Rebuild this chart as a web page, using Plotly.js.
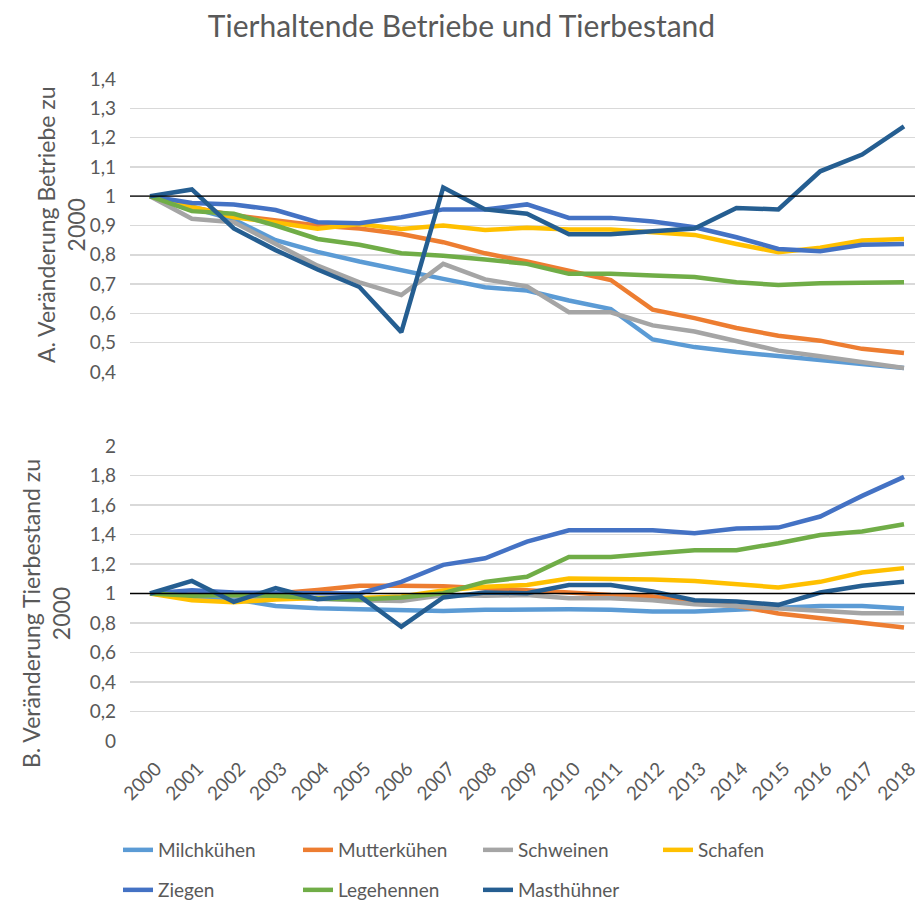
<!DOCTYPE html>
<html>
<head>
<meta charset="utf-8">
<script src="https://cdn.plot.ly/plotly-3.0.1.min.js"></script>
<style>html,body{margin:0;padding:0;background:#fff;}#chart{width:923px;height:903px;}</style>
</head>
<body>
<div id="chart"></div>
<script>
// ---- data ----
const years = [2000,2001,2002,2003,2004,2005,2006,2007,2008,2009,2010,2011,2012,2013,2014,2015,2016,2017,2018];
const yearLabels = years.map(String);
const seriesNames = ["Milchkühen","Mutterkühen","Schweinen","Schafen","Ziegen","Legehennen","Masthühner"];
const seriesColors = ["#5B9BD5","#ED7D31","#A5A5A5","#FFC000","#4472C4","#70AD47","#255E91"];

// A. Veränderung Betriebe zu 2000
const milchA  = [1,0.96,0.92,0.85,0.81,0.777,0.746,0.718,0.689,0.678,0.644,0.615,0.511,0.485,0.468,0.454,0.441,0.428,0.414];
const mutterA = [1,0.962,0.935,0.917,0.9,0.89,0.871,0.843,0.805,0.777,0.746,0.714,0.613,0.584,0.55,0.524,0.507,0.479,0.465];
const schweinA= [1,0.923,0.911,0.837,0.763,0.706,0.663,0.769,0.716,0.692,0.604,0.604,0.559,0.538,0.507,0.473,0.454,0.433,0.414];
const schafA  = [1,0.962,0.928,0.91,0.889,0.905,0.888,0.9,0.885,0.892,0.886,0.886,0.877,0.868,0.837,0.809,0.824,0.849,0.854];
const ziegenA = [1,0.977,0.972,0.953,0.911,0.908,0.928,0.955,0.955,0.972,0.926,0.926,0.914,0.894,0.86,0.82,0.812,0.834,0.837];
const legeA   = [1,0.949,0.94,0.9,0.854,0.834,0.805,0.797,0.784,0.769,0.735,0.735,0.729,0.724,0.706,0.697,0.703,0.704,0.706];
const mastA   = [1,1.023,0.89,0.816,0.75,0.69,0.536,1.03,0.955,0.94,0.87,0.87,0.88,0.89,0.96,0.955,1.085,1.142,1.238];

// B. Veränderung Tierbestand zu 2000
const milchB  = [1,0.98,0.96,0.916,0.9,0.893,0.887,0.882,0.889,0.893,0.893,0.889,0.878,0.878,0.893,0.905,0.916,0.916,0.898];
const mutterB = [1,1.0,0.99,1.0,1.024,1.052,1.052,1.05,1.036,1.018,1.007,0.99,0.98,0.939,0.916,0.864,0.833,0.797,0.769];
const schweinB= [1,0.99,0.98,0.97,0.96,0.955,0.95,0.99,0.984,0.99,0.968,0.968,0.955,0.927,0.916,0.9,0.882,0.866,0.866];
const schafB  = [1,0.955,0.94,0.96,0.97,0.97,0.98,1.02,1.045,1.058,1.102,1.102,1.095,1.085,1.063,1.041,1.079,1.142,1.172];
const ziegenB = [1,1.022,1.007,1.007,1.0,1.0,1.079,1.194,1.239,1.352,1.429,1.429,1.429,1.409,1.44,1.447,1.522,1.662,1.791];
const legeB   = [1,0.984,0.99,0.984,0.966,0.96,0.973,1.002,1.079,1.113,1.248,1.248,1.271,1.294,1.294,1.341,1.397,1.42,1.47];
const mastB   = [1,1.085,0.943,1.036,0.961,0.984,0.775,0.973,1.007,1.002,1.058,1.058,1.014,0.955,0.946,0.923,1.007,1.052,1.079];

const dataA = [milchA, mutterA, schweinA, schafA, ziegenA, legeA, mastA];
const dataB = [milchB, mutterB, schweinB, schafB, ziegenB, legeB, mastB];

// ---- traces ----
const FONT = "Lato, 'Open Sans', sans-serif";
const GREY = "#595959";
const traces = [];
seriesNames.forEach((name, i) => {
  traces.push({
    type: "scatter", mode: "lines", name: name, x: years, y: dataA[i],
    xaxis: "x", yaxis: "y",
    line: {color: seriesColors[i], width: 4.5},
    legend: i < 4 ? "legend" : "legend2",
    showlegend: true, hoverinfo: "skip"
  });
});
seriesNames.forEach((name, i) => {
  traces.push({
    type: "scatter", mode: "lines", name: name, x: years, y: dataB[i],
    xaxis: "x", yaxis: "y2",
    line: {color: seriesColors[i], width: 4.5},
    showlegend: false, hoverinfo: "skip"
  });
});

// ---- layout (paper = plot area: px 130..915 horizontally, 79..741 vertically) ----
const L = 130, R = 915, T = 79, B = 741, W = 923, H = 903;
const px = v => (v - L) / (R - L);
const py = v => (B - v) / (B - T);

const legendCommon = {
  orientation: "h", xanchor: "left", yanchor: "middle",
  font: {family: FONT, size: 19, color: GREY},
  entrywidth: 135, entrywidthmode: "pixels",
  bgcolor: "rgba(0,0,0,0)", itemclick: false, itemdoubleclick: false
};

const layout = {
  width: W, height: H,
  margin: {l: L, r: W - R, t: T, b: H - B, pad: 0, autoexpand: false},
  paper_bgcolor: "#ffffff", plot_bgcolor: "#ffffff",
  separators: ",.",
  font: {family: FONT, color: GREY},
  title: {text: "Tierhaltende Betriebe und Tierbestand", font: {family: FONT, size: 30, color: GREY},
          x: 0.5, xref: "container", xanchor: "center", y: 1 - 26 / H, yref: "container", yanchor: "middle"},
  xaxis: {
    type: "linear", anchor: "y2", automargin: false,
    range: [2000 - 20 / 41.9, 2018 + 11 / 41.9],
    tickvals: years, ticktext: yearLabels, tickangle: -45,
    showgrid: false, zeroline: false, showline: false, ticks: "",
    ticklabelstandoff: 12, ticklabelshift: 6,
    tickfont: {family: FONT, size: 19, color: GREY}
  },
  yaxis: {
    domain: [py(372), 1], range: [0.4, 1.4], tick0: 0.4, dtick: 0.1, automargin: false,
    showgrid: true, gridcolor: "#D9D9D9", gridwidth: 1.5,
    zeroline: false, showline: false, ticks: "", ticklabelstandoff: 13,
    tickfont: {family: FONT, size: 19, color: GREY}
  },
  yaxis2: {
    domain: [0, py(446)], range: [0, 2], tick0: 0, dtick: 0.2, automargin: false,
    showgrid: true, gridcolor: "#D9D9D9", gridwidth: 1.5,
    zeroline: false, showline: false, ticks: "", ticklabelstandoff: 13,
    tickfont: {family: FONT, size: 19, color: GREY}
  },
  shapes: [
    {type: "line", xref: "x domain", x0: 0, x1: 1, yref: "y", y0: 1, y1: 1, layer: "above", line: {color: "#000000", width: 1.3}},
    {type: "line", xref: "x domain", x0: 0, x1: 1, yref: "y2", y0: 1, y1: 1, layer: "above", line: {color: "#000000", width: 1.3}}
  ],
  annotations: [
    {text: "A. Veränderung Betriebe zu<br>2000", textangle: -90, xref: "paper", yref: "paper",
     x: px(61), y: py(225), xanchor: "center", yanchor: "middle", showarrow: false,
     font: {family: FONT, size: 23, color: GREY}},
    {text: "B. Veränderung Tierbestand zu<br>2000", textangle: -90, xref: "paper", yref: "paper",
     x: px(46), y: py(614), xanchor: "center", yanchor: "middle", showarrow: false,
     font: {family: FONT, size: 23, color: GREY}}
  ],
  legend: Object.assign({x: px(118), y: py(850)}, legendCommon),
  legend2: Object.assign({x: px(118), y: py(890)}, legendCommon),
  showlegend: true
};

Plotly.newPlot("chart", traces, layout, {staticPlot: true, displayModeBar: false});
</script>
</body>
</html>
